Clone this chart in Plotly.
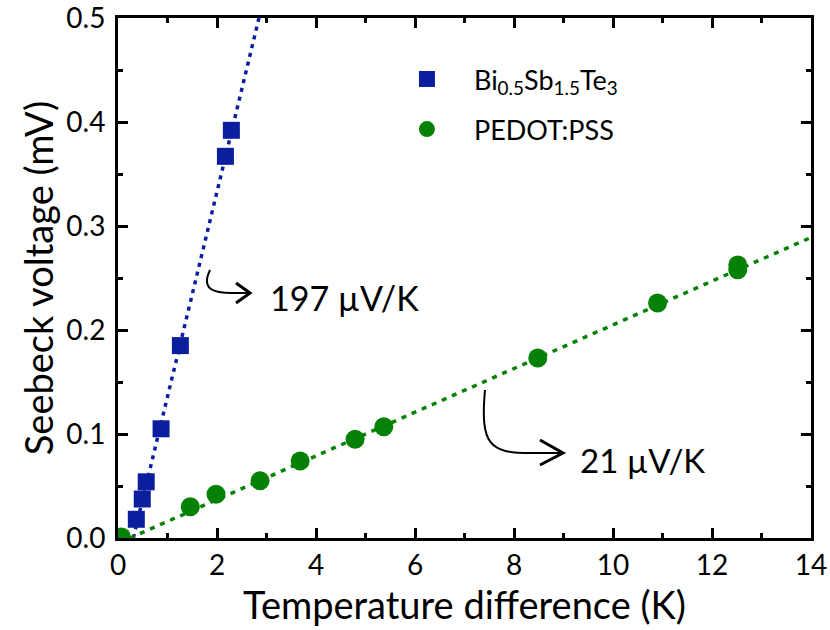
import plotly.graph_objects as go

# Measured Seebeck voltage vs. applied temperature difference
bst_dT = [0.37, 0.49, 0.57, 0.87, 1.26, 2.17, 2.29]
bst_V = [0.018, 0.0375, 0.054, 0.105, 0.185, 0.367, 0.392]

pedot_dT = [0.07, 1.46, 1.98, 2.87, 3.68, 4.79, 5.37, 8.48, 10.9, 12.52, 12.52]
pedot_V = [0.001, 0.030, 0.042, 0.055, 0.074, 0.095, 0.107, 0.173, 0.226, 0.258, 0.2625]

# Linear fits: slope in mV/K and x-intercept in K
bst_slope, bst_x0 = 0.197, 0.31
pedot_slope, pedot_x0 = 0.021, 0.24

BLUE = "#0a1e9e"
GREEN = "#058205"
FONT = "Lato"

fig = go.Figure()

# Fit lines
bst_fx = [bst_x0, bst_x0 + 0.5 / bst_slope]
fig.add_trace(go.Scatter(x=bst_fx, y=[bst_slope * (x - bst_x0) for x in bst_fx],
                         mode="lines", line=dict(color=BLUE, width=3.5, dash="4px,5px"),
                         showlegend=False, hoverinfo="skip"))
pedot_fx = [pedot_x0, 14]
fig.add_trace(go.Scatter(x=pedot_fx, y=[pedot_slope * (x - pedot_x0) for x in pedot_fx],
                         mode="lines", line=dict(color=GREEN, width=3.5, dash="5px,6px"),
                         showlegend=False, hoverinfo="skip"))

# Data points
fig.add_trace(go.Scatter(x=bst_dT, y=bst_V, mode="markers", legendgroup="bst",
                         name="Bi<sub>0.5</sub>Sb<sub>1.5</sub>Te<sub>3</sub>",
                         marker=dict(symbol="square", size=17, color=BLUE)))
fig.add_trace(go.Scatter(x=pedot_dT, y=pedot_V, mode="markers", name="PEDOT:PSS",
                         legendgroup="pedot",
                         marker=dict(symbol="circle", size=19, color=GREEN)))

# Curved arrows pointing to slope labels
arrow_line = dict(color="black", width=2)
fig.add_shape(type="path", xref="x", yref="y", line=arrow_line,
              path="M 1.86,0.2577 C 1.66,0.2385 1.96,0.2356 2.3,0.2356 L 2.667,0.2356")
fig.add_shape(type="path", xref="x", yref="y", line=dict(color="black", width=3),
              path="M 2.384,0.2452 L 2.667,0.2356 L 2.384,0.226")
fig.add_shape(type="path", xref="x", yref="y", line=arrow_line,
              path="M 7.414,0.1423 C 7.313,0.0894 7.515,0.0817 8.323,0.0817 L 8.99,0.0817")
fig.add_shape(type="path", xref="x", yref="y", line=dict(color="black", width=3),
              path="M 8.525,0.0942 L 8.99,0.0817 L 8.525,0.0702")

fig.add_annotation(x=3.03, y=0.2317, xref="x", yref="y", xanchor="left", yanchor="middle",
                   text=f"{bst_slope * 1000:.0f} µV/K", showarrow=False,
                   font=dict(family=FONT, size=34, color="black"))
fig.add_annotation(x=9.29, y=0.075, xref="x", yref="y", xanchor="left", yanchor="middle",
                   text=f"{pedot_slope * 1000:.0f} µV/K", showarrow=False,
                   font=dict(family=FONT, size=33, color="black"))

axis_common = dict(showline=True, linecolor="black", linewidth=3, mirror="ticks",
                   ticks="inside", ticklen=10, tickwidth=3, tickcolor="black",
                   showgrid=False, zeroline=False, ticklabeloverflow="allow",
                   tickfont=dict(family=FONT, size=28, color="black"),
                   minor=dict(ticks="inside", ticklen=5, tickwidth=3, tickcolor="black"))

fig.update_xaxes(range=[0, 14], dtick=2, tick0=0, minor_dtick=1,
                 title=dict(text="Temperature difference (K)",
                            font=dict(family=FONT, size=38, color="black"), standoff=8),
                 **axis_common)
fig.update_yaxes(range=[0, 0.5], dtick=0.1, tick0=0, minor_dtick=0.05, tickformat=".1f",
                 ticklabelstandoff=4,
                 title=dict(text="Seebeck voltage (mV)",
                            font=dict(family=FONT, size=38, color="black"), standoff=2),
                 **axis_common)

fig.update_layout(
    width=830, height=630,
    margin=dict(l=118, r=19, t=18, b=92, autoexpand=False),
    plot_bgcolor="white", paper_bgcolor="white",
    font=dict(family=FONT, color="black"),
    legend=dict(x=0.378, y=0.929, xanchor="left", yanchor="top",
                bgcolor="rgba(0,0,0,0)", font=dict(family=FONT, size=27, color="black"),
                itemwidth=84, traceorder="grouped", tracegroupgap=12),
)

fig.write_html("out.html")
